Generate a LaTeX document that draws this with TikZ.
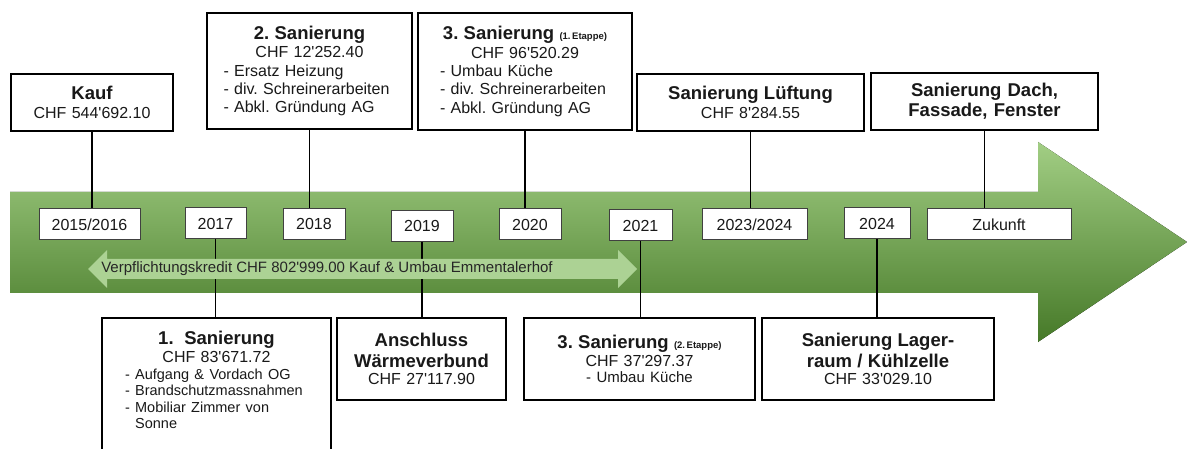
\documentclass[tikz,border=0pt]{standalone}
\usepackage{fontspec}
\setmainfont{Liberation Sans}
\frenchspacing
\definecolor{arrowtop}{RGB}{162,206,132}
\definecolor{arrowmid}{RGB}{112,173,71}
\definecolor{arrowbot}{RGB}{70,121,40}
\definecolor{kreditgreen}{RGB}{172,210,148}
\newcommand{\apo}{\textquotesingle}
\newcommand{\titlefont}{\fontsize{18.5}{20}\selectfont\bfseries}
\newcommand{\etappefont}{\fontsize{9.5}{11}\selectfont\bfseries}
\tikzset{
  infobox/.style={draw=black, line width=1.3pt, fill=white, inner sep=0pt,
    text=black!90, font=\fontsize{16}{18.3}\selectfont},
  yearbox/.style={draw=black!75, line width=1pt, fill=white, inner sep=0pt,
    minimum height=31pt, text=black!90, font=\fontsize{16}{18}\selectfont},
  link/.style={line width=1.4pt, black},
}

\begin{document}
\begin{tikzpicture}[x=1pt, y=-1pt]
        \useasboundingbox (0,0) rectangle (1187,449);
        \clip (0,0) rectangle (1187,449);
        % Big green time arrow
        \fill[top color=arrowtop, middle color=arrowmid, bottom color=arrowbot]
          (10,192) -- (1038,192) -- (1038,142) -- (1187,242)
          -- (1038,342) -- (1038,293) -- (10,293) -- cycle;
        % Boxes above the arrow
        \node[infobox, minimum width=162pt, minimum height=57pt, text width=150pt, align=center]
          (kauf) at (92,102.5) {{\titlefont Kauf}\\CHF 544\apo692.10};
        \node[infobox, minimum width=205pt, minimum height=116pt, text width=172pt]
          (san2) at (309.5,71) {{\centering{\titlefont 2. Sanierung}\\CHF 12\apo252.40\par}
          - Ersatz Heizung\\- div. Schreinerarbeiten\\- Abkl. Gründung AG};
        \node[infobox, minimum width=214pt, minimum height=117pt, text width=170pt]
          (san3a) at (525,71.5) {{\centering\makebox[\linewidth]{\titlefont 3. Sanierung {\etappefont (1.\,Etappe)}}\\CHF 96\apo520.29\par}
          - Umbau Küche\\- div. Schreinerarbeiten\\- Abkl. Gründung AG};
        \node[infobox, minimum width=227pt, minimum height=57pt, text width=215pt, align=center]
          (lueft) at (750.5,102.5) {{\titlefont Sanierung Lüftung}\\CHF 8\apo284.55};
        \node[infobox, minimum width=227pt, minimum height=57pt, text width=215pt, align=center, font=\titlefont]
          (dach) at (984.5,101.5) {Sanierung Dach,\\Fassade, Fenster};
        % Year boxes on the arrow
        \foreach \nm/\xx/\yy/\ww/\lbl in {y1516/89.5/224.5/101/{2015/2016}, y17/215.5/223.5/61/2017,
            y18/314/224/62/2018, y19/422/226/62/2019, y20/530/224.5/62/2020, y21/640.5/225.5/63/2021,
            y2324/754.5/224.5/105/{2023/2024}, y24/877/223.5/66/2024, zuk/999/224.5/144/Zukunft} {
          \node[yearbox, minimum width=\ww pt] (\nm) at (\xx,\yy) {\lbl};
        }
        % Boxes below the arrow
        \node[infobox, minimum width=229pt, minimum height=140pt, text width=183pt]
          (san1) at (216.5,388) {{\centering{\titlefont 1.\ \ Sanierung}\\CHF 83\apo671.72\par}
          {\fontsize{14.5}{16.5}\selectfont - Aufgang \& Vordach OG\\- Brandschutzmassnahmen\\
          - Mobiliar Zimmer von\\\phantom{- }Sonne\\\mbox{}\par}};
        \node[infobox, minimum width=169pt, minimum height=82pt, text width=160pt, align=center]
          (waerme) at (421.5,359) {{\titlefont Anschluss\\[2.5pt]Wärmeverbund}\\[-1.5pt]CHF 27\apo117.90};
        \node[infobox, minimum width=231pt, minimum height=82pt, text width=220pt, align=center]
          (san3b) at (639.5,359) {{\titlefont 3. Sanierung} {\etappefont (2.\,Etappe)}\\CHF 37\apo297.37\\[-2pt]
          {\fontsize{15}{17}\selectfont - Umbau Küche}};
        \node[infobox, minimum width=232pt, minimum height=82pt, text width=220pt, align=center]
          (lager) at (878,359) {{\titlefont Sanierung Lager-\\[2.5pt]raum / Kühlzelle}\\[-1.5pt]CHF 33\apo029.10};
        % Connectors
        \foreach \a/\b in {kauf/y1516, san2/y18, san3a/y20, lueft/y2324, dach/zuk}
          \draw[link] (\a.south) -- (\a.south |- \b.north);
        \foreach \a/\b in {y17/san1, y19/waerme, y21/san3b, y24/lager}
          \draw[link] (\a.south) -- (\a.south |- \b.north);
        % Credit arrow
        \fill[kreditgreen] (88,269) -- (107,250) -- (107,259) -- (618,259) -- (618,250)
          -- (637,269) -- (618,288) -- (618,279) -- (107,279) -- (107,288) -- cycle;
        \node[font=\fontsize{15}{17}\selectfont, text=black!85, inner sep=0pt]
          (kredit) at (327,269) {Verpflichtungskredit CHF 802\apo999.00 Kauf \& Umbau Emmentalerhof};
\end{tikzpicture}
\end{document}
